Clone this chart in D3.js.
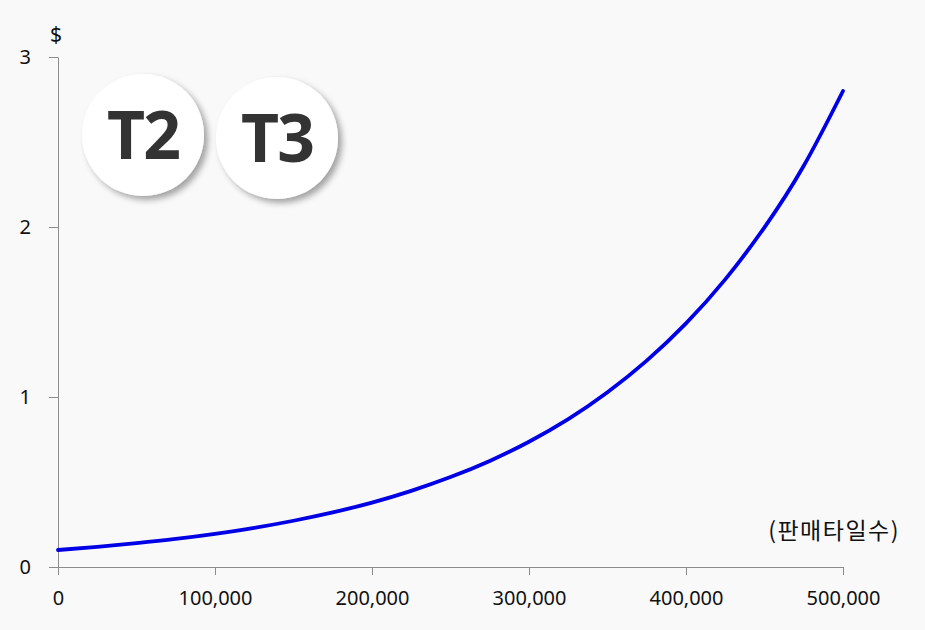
<!DOCTYPE html>
<html>
<head>
<meta charset="utf-8">
<script src="https://cdn.jsdelivr.net/npm/d3@7"></script>
<style>
  body { margin: 0; background: #f9f9f9; }
  svg { display: block; }
</style>
</head>
<body>
<svg id="chart"></svg>
<script>
// values
const days = [0, 25000, 50000, 75000, 100000, 125000, 150000, 175000, 200000, 225000,
  250000, 275000, 300000, 325000, 350000, 375000, 400000, 425000, 450000, 475000, 500000];
const price = [0.100, 0.118, 0.140, 0.165, 0.195, 0.230, 0.272, 0.321, 0.379, 0.448,
  0.529, 0.624, 0.737, 0.870, 1.028, 1.214, 1.433, 1.692, 1.998, 2.360, 2.800];
const xTicks = [0, 100000, 200000, 300000, 400000, 500000];
const yTicks = [0, 1, 2, 3];
const badges = ["T2", "T3"];

const width = 925, height = 630;
const margin = { top: 57, right: 82, bottom: 63, left: 58 };

const svg = d3.select("#chart").attr("width", width).attr("height", height);

const defs = svg.append("defs");
const shadow = defs.append("filter").attr("id", "shadow")
  .attr("x", "-30%").attr("y", "-30%").attr("width", "160%").attr("height", "160%");
shadow.append("feDropShadow")
  .attr("dx", 4).attr("dy", 4).attr("stdDeviation", 3)
  .attr("flood-color", "#000").attr("flood-opacity", 0.35);

const x = d3.scaleLinear().domain([0, 500000])
  .range([margin.left, width - margin.right]);
const y = d3.scaleLinear().domain([0, 3])
  .range([height - margin.bottom, margin.top]);

const fmt = d3.format(",");

const xAxis = svg.append("g")
  .attr("transform", `translate(0,${height - margin.bottom})`)
  .call(d3.axisBottom(x).tickValues(xTicks).tickFormat(d => fmt(d)).tickSize(8).tickSizeOuter(0).tickPadding(16));

const yAxis = svg.append("g")
  .attr("transform", `translate(${margin.left},0)`)
  .call(d3.axisLeft(y).tickValues(yTicks).tickFormat(d3.format("d")).tickSize(9).tickSizeOuter(0).tickPadding(18));

[xAxis, yAxis].forEach(a => {
  a.select(".domain").attr("stroke", "#8c8c8c");
  a.selectAll(".tick line").attr("stroke", "#8c8c8c");
  a.selectAll(".tick text")
    .attr("fill", "#111")
    .style("font-family", "'Noto Sans', 'Noto Sans CJK KR', sans-serif")
    .style("font-size", "20px");
});

svg.append("text")
  .attr("x", 56).attr("y", 42)
  .attr("text-anchor", "middle")
  .style("font-family", "'Noto Sans', sans-serif")
  .style("font-size", "21px")
  .attr("fill", "#111")
  .text("$");

svg.append("text")
  .attr("x", 900).attr("y", 539)
  .attr("text-anchor", "end")
  .style("font-family", "'Noto Sans CJK KR', sans-serif")
  .style("font-size", "23px")
  .style("letter-spacing", "1.5px")
  .attr("fill", "#111")
  .text("(판매타일수)");

const line = d3.line()
  .x((d, i) => x(days[i]))
  .y(d => y(d))
  .curve(d3.curveNatural);

svg.append("path")
  .datum(price)
  .attr("fill", "none")
  .attr("stroke", "#0000e6")
  .attr("stroke-width", 3.8)
  .attr("stroke-linecap", "round")
  .attr("d", line);

// badge circles
const badgePos = [[143, 135], [277, 138]];
const badge = svg.selectAll(".badge")
  .data(badges)
  .enter()
  .append("g")
  .attr("class", "badge")
  .attr("transform", (d, i) => `translate(${badgePos[i][0]},${badgePos[i][1]})`);

badge.append("circle")
  .attr("r", 61)
  .attr("fill", "#fff")
  .attr("filter", "url(#shadow)");

badge.append("text")
  .attr("text-anchor", "middle")
  .attr("dy", "0.36em")
  .style("font-family", "'Noto Sans', sans-serif")
  .style("font-weight", "bold")
  .style("font-size", "66px")
  .style("letter-spacing", "-2px")
  .attr("fill", "#333")
  .text(d => d);
</script>
</body>
</html>
